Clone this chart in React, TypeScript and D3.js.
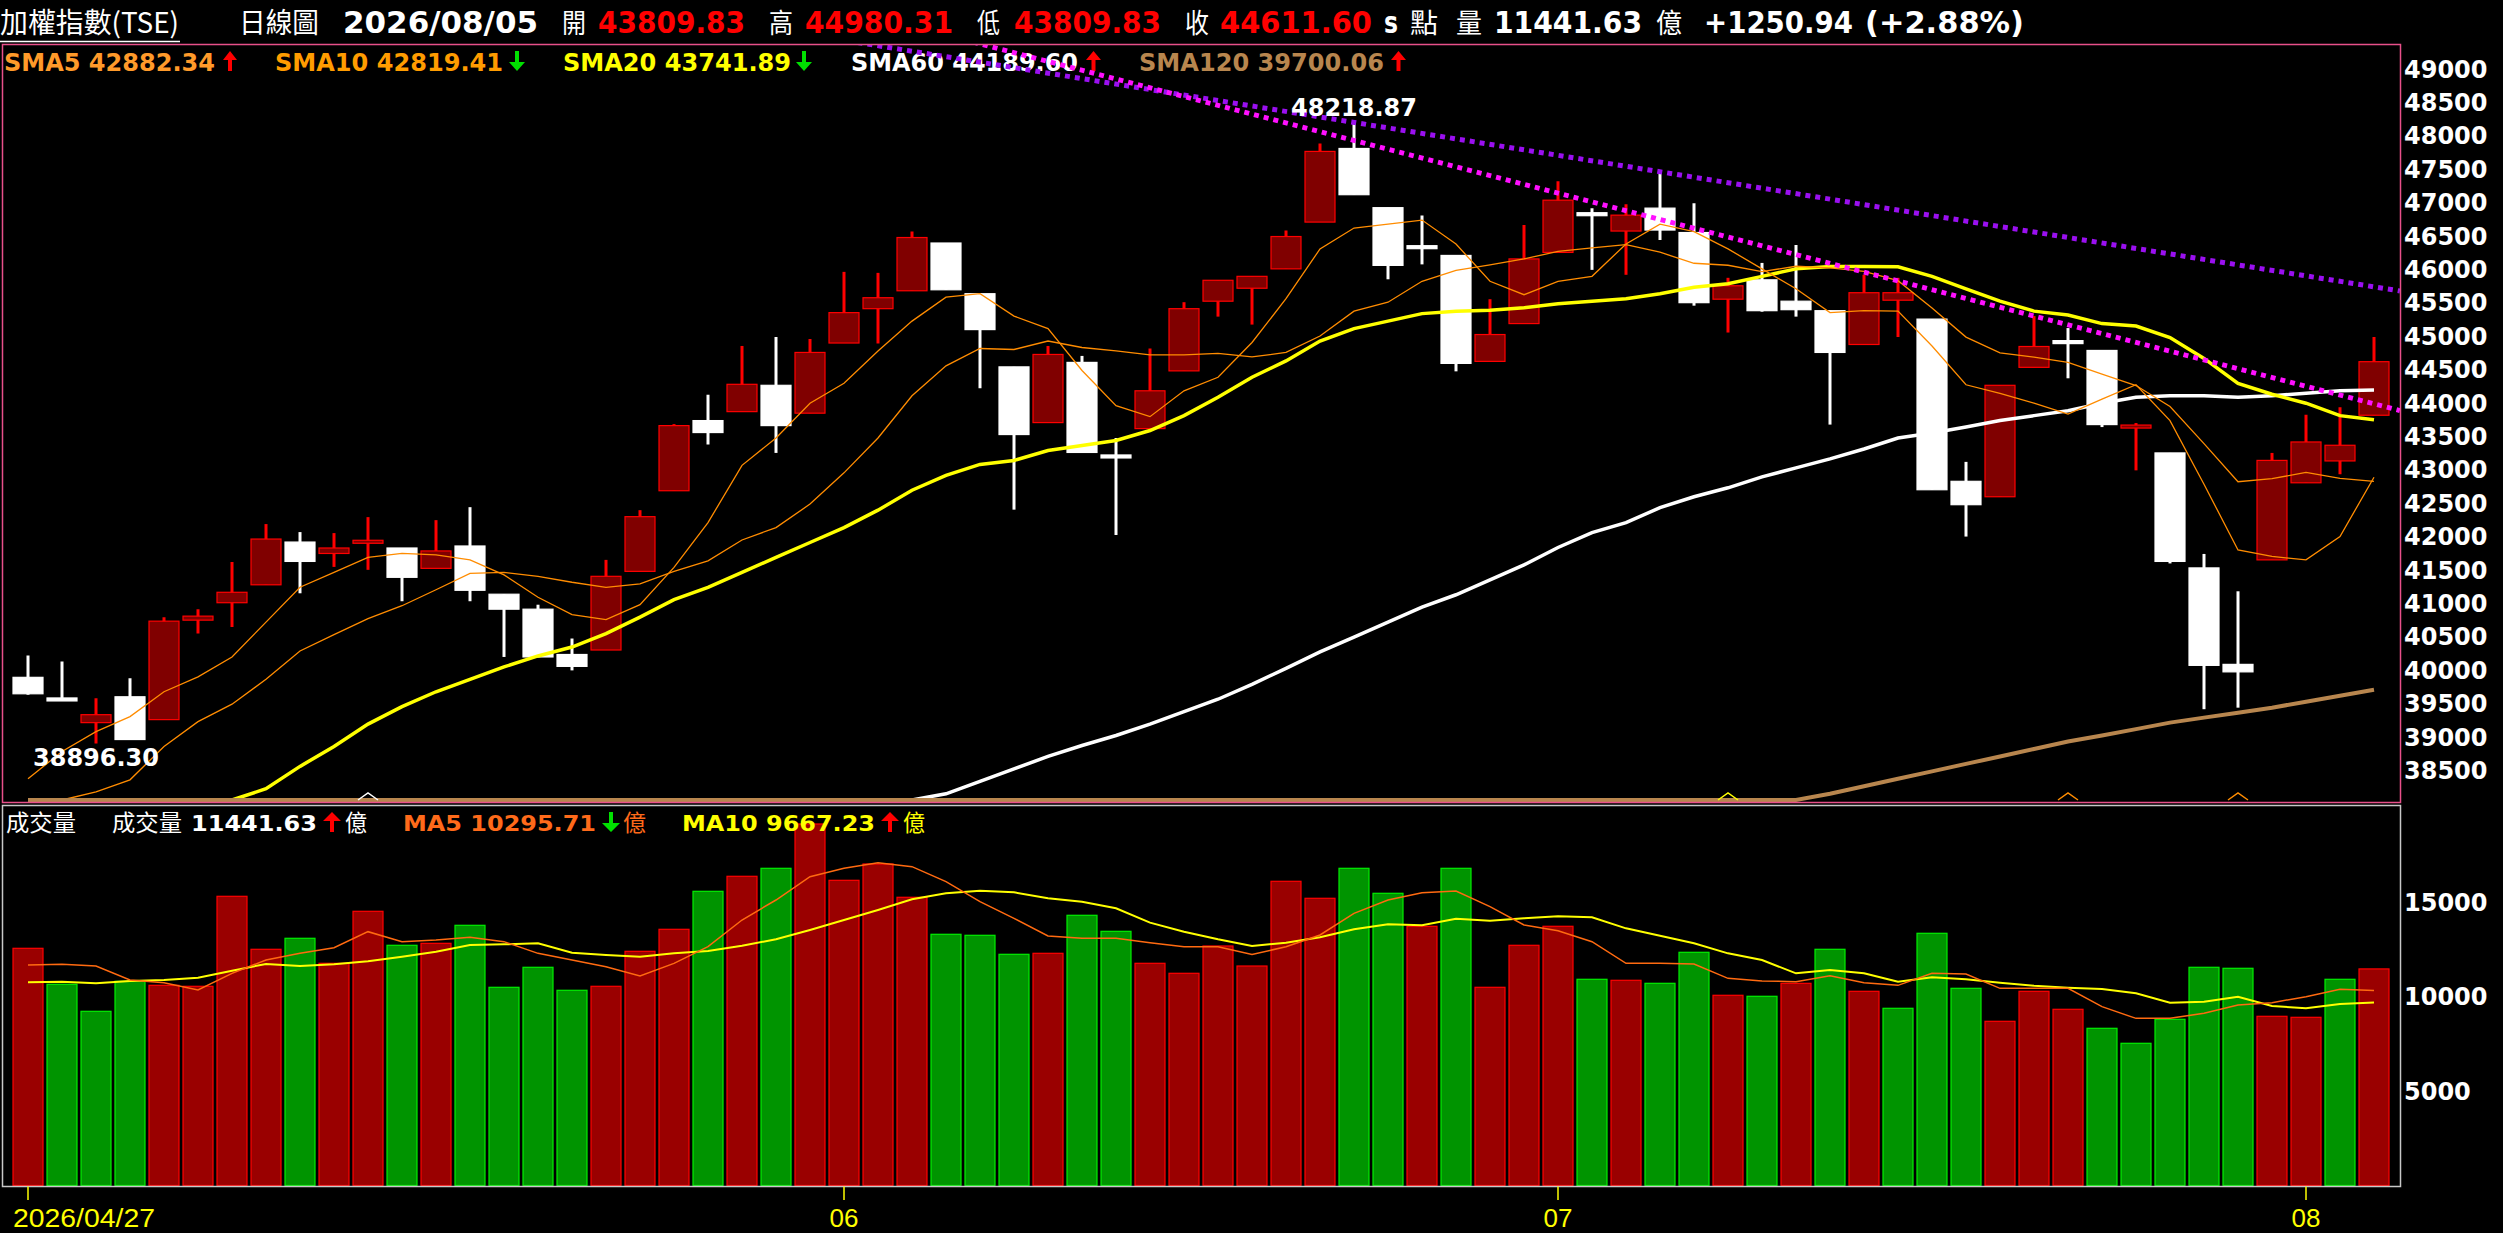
import React from "react";
import * as d3 from "d3";

// ---------------- DATA ----------------
const xTickIndex = [0, 24, 45, 67];
const xTickLabels = ["2026/04/27", "06", "07", "08"];
const barDate = "2026/08/05";

const opens = [39887, 39560, 39209, 39596, 39254, 40743, 41004, 41272, 41912, 41741,
  41905, 41823, 41518, 41853, 41131, 40907, 40229, 40296, 41473, 42680,
  43730, 43864, 44258, 43841, 44891, 45405, 45673, 46388, 45629, 44534,
  43700, 44601, 43200, 43610, 44474, 45517, 45711, 46001, 46701, 47803,
  46917, 46330, 46202, 44616, 45182, 46247, 46825, 46567, 46910, 46545,
  45547, 45837, 45517, 45375, 44869, 45532, 45249, 42821, 42590, 44527,
  44910, 44780, 43618, 43246, 41525, 40081, 41645, 42799, 43126, 43809.83];
const highs = [40215, 40125, 39574, 39872, 40788, 40907, 41615, 42181, 42061, 42046,
  42285, 41823, 42240, 42434, 41131, 40974, 40468, 41645, 42389, 43677,
  44117, 44847, 44981, 44951, 45956, 45941, 46560, 46388, 45629, 44534,
  44847, 44698, 43469, 44809, 45502, 45830, 45889, 46574, 47878, 48218.87,
  46917, 46798, 46202, 45547, 46656, 47312, 46910, 46969, 47431, 46984,
  45867, 46090, 46359, 45375, 45912, 45867, 45249, 43112, 44258, 45294,
  45115, 44780, 43693, 43246, 41734, 41175, 43246, 43819, 43931, 44980.31];
const lows = [39626, 39545, 38896.3, 38950, 39254, 40542, 40639, 41272, 41145, 41540,
  41496, 41026, 41518, 41026, 40192, 40192, 39991, 40296, 41473, 42680,
  43372, 43864, 43246, 43841, 44891, 44884, 45673, 45688, 44214, 42397,
  43700, 43253, 42017, 43610, 44474, 45286, 45167, 46001, 46701, 47111,
  45845, 46068, 44467, 44616, 45182, 46247, 45986, 45912, 46433, 45450,
  45048, 45360, 45286, 43670, 44869, 44981, 42695, 41994, 42590, 44527,
  44363, 43633, 42985, 41592, 39410, 39433, 41645, 42799, 42925, 43809.83];
const closes = [39641, 39552, 39328, 38956, 40728, 40803, 41160, 41957, 41622, 41823,
  41927, 41384, 41779, 41190, 40907, 40192, 40051, 41399, 42292, 43655,
  43551, 44273, 43655, 44750, 45346, 45569, 46470, 45688, 45092, 43521,
  44720, 43253, 43186, 44176, 45405, 45830, 45889, 46485, 47759, 47111,
  46053, 46321, 44586, 45018, 46150, 47029, 46813, 46805, 46582, 45495,
  45748, 45375, 45390, 44750, 45644, 45644, 42695, 42471, 44258, 44839,
  44899, 43670, 43663, 41622, 40066, 39969, 43134, 43410, 43360.66, 44611.6];

// null = below the visible price range
const sma5 = [38368, 38777, 39075, 39299, 39671, 39894, 40192, 40713, 41235, 41458,
  41682, 41741, 41719, 41644, 41421, 41086, 40825, 40751, 40974, 41533,
  42203, 43060, 43469, 43990, 44288, 44772, 45219, 45577, 45629, 45294,
  45107, 44480, 43953, 43789, 44176, 44378, 44899, 45554, 46299, 46612,
  46671, 46731, 46373, 45815, 45614, 45815, 45889, 46373, 46671, 46559,
  46300, 46001, 45703, 45346, 45376, 45368, 44847, 44266, 44139, 43990,
  43826, 44050, 44266, 43730, 42777, 41794, 41697, 41645, 41995, 42882.34];
const sma10 = [null, null, 38174, 38353, 38852, 39224, 39485, 39857, 40282, 40527,
  40766, 40959, 41198, 41443, 41458, 41399, 41310, 41235, 41287, 41473,
  41630, 41943, 42129, 42480, 42948, 43469, 44102, 44549, 44809, 44794,
  44921, 44824, 44772, 44713, 44713, 44735, 44683, 44750, 44996, 45368,
  45502, 45815, 45979, 46061, 46150, 46262, 46314, 46365, 46250, 46085,
  46055, 45960, 46040, 46015, 45965, 45825, 45415, 44980, 44745, 44680,
  44600, 44425, 44255, 43940, 43385, 42815, 42860, 42955, 42865, 42819.41];
const sma20 = [null, null, null, null, null, null, 38040, 38219, 38554, 38852,
  39187, 39448, 39671, 39857, 40043, 40207, 40341, 40542, 40788, 41049,
  41235, 41458, 41682, 41905, 42129, 42389, 42687, 42910, 43074, 43134,
  43283, 43357, 43432, 43581, 43804, 44080, 44378, 44623, 44921, 45107,
  45219, 45331, 45368, 45383, 45420, 45480, 45517, 45554, 45629, 45725,
  45777, 45889, 46001, 46038, 46038, 46031, 45889, 45703, 45517, 45368,
  45309, 45182, 45145, 44973, 44661, 44288, 44124, 43990, 43804, 43741.89];
const sma60 = [null, null, null, null, null, null, null, null, null, null,
  null, null, null, null, null, null, null, null, null, null,
  null, null, null, null, null, null, 38030, 38144, 38331, 38517,
  38703, 38867, 39016, 39187, 39373, 39559, 39783, 40021, 40267, 40490,
  40713, 40937, 41123, 41347, 41570, 41831, 42054, 42203, 42426, 42590,
  42724, 42888, 43022, 43156, 43305, 43469, 43543, 43633, 43730, 43804,
  43878, 43990, 44080, 44102, 44102, 44080, 44102, 44139, 44176, 44189.6];
const sma120 = [null, null, null, null, null, null, null, null, null, null,
  null, null, null, null, null, null, null, null, null, null,
  null, null, null, null, null, null, null, null, null, null,
  null, null, null, null, null, null, null, null, null, null,
  null, null, null, null, null, null, null, null, null, null,
  null, null, 38048, 38145, 38256, 38368, 38479, 38591, 38703, 38815,
  38926, 39016, 39112, 39209, 39284, 39358, 39433, 39522, 39611, 39700.06];

const volumes = [12530, 10629, 9202, 10787, 10576, 10523, 15277, 12478, 13059, 11738,
  14485, 12689, 12794, 13745, 10470, 11527, 10312, 10523, 12372, 13534,
  15541, 16334, 16756, 19097, 16122, 16984, 15225, 13270, 13217, 12213,
  12266, 14274, 13428, 11738, 11210, 12652, 11595, 16070, 15172, 16756,
  15436, 13693, 16756, 10470, 12689, 13693, 10893, 10840, 10681, 12319,
  10048, 9995, 10681, 12478, 10259, 9361, 13323, 10417, 8674, 10259,
  9308, 8304, 7512, 8780, 11527, 11474, 8938, 8885, 10893, 11441.63];
const volumeDirection = "RGGGRRRRGRRGRGGGGRRRGRGRRRRGGGRGGRRRRRRGGRGRRRGRGGRGRGRGGGRRRGGGGGRRGR";
const volMa5 = [11648, 11683, 11595, 10856, 10715, 10327, 11208, 11912, 12264, 12564,
  13409, 12881, 12969, 13110, 12881, 12264, 11912, 11560, 11067, 11736,
  12617, 14025, 15082, 16315, 16755, 17054, 16843, 16050, 14994, 14113,
  13180, 13057, 13057, 12828, 12617, 12617, 12200, 12617, 13233, 14378,
  15082, 15469, 15557, 14730, 13761, 13462, 12881, 11736, 11736, 11701,
  10944, 10803, 10768, 11084, 10715, 10574, 11208, 11173, 10415, 10415,
  10415, 9447, 8830, 8830, 9095, 9535, 9658, 9975, 10362, 10295.71];
const volMa10 = [10732, 10768, 10679, 10803, 10856, 10979, 11349, 11701, 11595, 11683,
  11842, 12088, 12353, 12705, 12740, 12793, 12300, 12176, 12088, 12264,
  12388, 12670, 13004, 13497, 14025, 14554, 15117, 15434, 15575, 15487,
  15170, 14994, 14642, 13885, 13409, 13004, 12650, 12828, 13110, 13532,
  13797, 13744, 14096, 13990, 14113, 14219, 14166, 13585, 13198, 12793,
  12264, 11912, 11208, 11384, 11208, 10768, 10996, 10891, 10715, 10556,
  10451, 10380, 10151, 9658, 9711, 9975, 9482, 9359, 9588, 9667.23];

const priceTicks = [49000, 48500, 48000, 47500, 47000, 46500, 46000, 45500, 45000, 44500, 44000,
  43500, 43000, 42500, 42000, 41500, 41000, 40500, 40000, 39500, 39000, 38500];
const volumeTicks = [15000, 10000, 5000];

// dotted trend lines: [bar index, price]
const violetTrend: [number, number][] = [[24.4, 49390], [69.76, 45670]];
const magentaTrend: [number, number][] = [[27.8, 49395], [69.76, 43880]];

// small markers on the lower edge (bar index)
const sma60BottomMarks = [10];
const sma20BottomMarks = [50];
const sma5BottomMarks = [60, 65];

// ---------------- CHART ----------------
const W = 2503, H = 1233;
const LAT = "'DejaVu Sans', Verdana, sans-serif";
const CJK = "'Noto Sans CJK TC', 'Noto Sans CJK SC', sans-serif";

function Arrow({ x0, x1, top, bottom, up, color }: any) {
  const cx = (x0 + x1) / 2, hw = (x1 - x0) / 2, hh = 9, sw = 2;
  const d = up
    ? `M${cx},${top} L${cx + hw},${top + hh} L${cx + sw},${top + hh} L${cx + sw},${bottom} L${cx - sw},${bottom} L${cx - sw},${top + hh} L${cx - hw},${top + hh} Z`
    : `M${cx},${bottom} L${cx + hw},${bottom - hh} L${cx + sw},${bottom - hh} L${cx + sw},${top} L${cx - sw},${top} L${cx - sw},${bottom - hh} L${cx - hw},${bottom - hh} Z`;
  return <path d={d} fill={color} />;
}

function T({ x0, x1, y, text, color, size, bold, cjk }: any) {
  return (
    <text x={x0} y={y} fill={color} fontSize={size} fontWeight={bold ? "bold" : "normal"}
      fontFamily={cjk ? CJK : LAT} textLength={x1 - x0} lengthAdjust="spacingAndGlyphs">{text}</text>
  );
}

export default function App() {
  const n = closes.length;
  const x = d3.scaleLinear().domain([0, n - 1]).range([28, 2374]);
  const y = d3.scaleLinear().domain([38500, 49000]).range([770, 68.5]);
  const yv = d3.scaleLinear().domain([0, 15000]).range([1185.5, 901.55]);
  const PL = 2.5, PR = 2400.5, PT = 44.5, PB = 802.5, VT = 805.5, VB = 1186.5;
  const clampY = 800;

  const maLine = d3.line<number | null>()
    .x((_, i) => x(i))
    .y((d) => (d == null ? clampY : Math.min(y(d), clampY)));
  const volLine = d3.line<number>().x((_, i) => x(i)).y((d) => yv(d));
  const trendPath = (pts: [number, number][]) =>
    d3.line<[number, number]>().x((d) => x(d[0])).y((d) => y(d[1]))(pts) || "";

  const last = n - 1;
  const change = closes[last] - closes[last - 1];
  const pct = (change / closes[last - 1]) * 100;
  const f2 = (v: number) => v.toFixed(2);
  const upArrow = (arr: any[]) => (arr[last] as number) >= (arr[last - 1] as number);

  const red = "#ff0000", hdrY = 33, legY = 71, vLegY = 831;
  const green = "#00e000";

  const chevron = (i: number, color: string, key: string) => {
    const cx = x(i);
    return <polyline key={key} points={`${cx - 10},${clampY} ${cx},${clampY - 7} ${cx + 10},${clampY}`}
      fill="none" stroke={color} strokeWidth={1.5} />;
  };

  return (
    <div style={{ position: "absolute", left: 0, top: 0, width: W, height: H, background: "#000" }}>
      <svg width={W} height={H} style={{ display: "block" }}>
        <defs>
          <clipPath id="pclip"><rect x={PL} y={PT} width={PR - PL} height={PB - PT} /></clipPath>
          <clipPath id="vclip"><rect x={PL} y={VT} width={PR - PL} height={VB - VT} /></clipPath>
        </defs>
        <rect x={0} y={0} width={W} height={H} fill="#000" />

        {/* header */}
        <T x0={0} x1={179} y={hdrY} text="加權指數(TSE)" color="#fff" size={28} cjk />
        <line x1={0} x2={180} y1={41.5} y2={41.5} stroke="#fff" strokeWidth={1.5} />
        <T x0={239} x1={319} y={hdrY} text="日線圖" color="#fff" size={28} cjk />
        <T x0={343} x1={538} y={hdrY} text={barDate} color="#fff" size={30} bold />
        <T x0={562} x1={586} y={hdrY} text="開" color="#fff" size={27} cjk />
        <T x0={598} x1={745} y={hdrY} text={f2(opens[last])} color={red} size={30} bold />
        <T x0={769} x1={793} y={hdrY} text="高" color="#fff" size={27} cjk />
        <T x0={805} x1={953} y={hdrY} text={f2(highs[last])} color={red} size={30} bold />
        <T x0={977} x1={1000} y={hdrY} text="低" color="#fff" size={27} cjk />
        <T x0={1014} x1={1161} y={hdrY} text={f2(lows[last])} color={red} size={30} bold />
        <T x0={1185} x1={1209} y={hdrY} text="收" color="#fff" size={27} cjk />
        <T x0={1220} x1={1372} y={hdrY} text={f2(closes[last])} color={red} size={30} bold />
        <T x0={1384} x1={1398} y={hdrY} text="s" color="#fff" size={30} bold />
        <T x0={1410} x1={1438} y={hdrY} text="點" color="#fff" size={27} cjk />
        <T x0={1456} x1={1482} y={hdrY} text="量" color="#fff" size={27} cjk />
        <T x0={1494} x1={1642} y={hdrY} text={f2(volumes[last])} color="#fff" size={30} bold />
        <T x0={1656} x1={1682} y={hdrY} text="億" color="#fff" size={27} cjk />
        <T x0={1704} x1={1853} y={hdrY} text={(change >= 0 ? "+" : "") + f2(change)} color="#fff" size={30} bold />
        <T x0={1865} x1={2024} y={hdrY} text={`(${change >= 0 ? "+" : ""}${f2(Math.floor(pct * 100) / 100)}%)`} color="#fff" size={30} bold />

        {/* price legend */}
        <T x0={4} x1={215} y={legY} text={`SMA5 ${f2(sma5[last])}`} color="#ff9a2a" size={24} bold />
        <Arrow x0={223} x1={237} top={51} bottom={71} up={upArrow(sma5)} color={upArrow(sma5) ? red : green} />
        <T x0={275} x1={503} y={legY} text={`SMA10 ${f2(sma10[last] as number)}`} color="#ff9c00" size={24} bold />
        <Arrow x0={509} x1={525} top={51} bottom={71} up={upArrow(sma10)} color={upArrow(sma10) ? red : green} />
        <T x0={563} x1={791} y={legY} text={`SMA20 ${f2(sma20[last] as number)}`} color="#ffff00" size={24} bold />
        <Arrow x0={796} x1={812} top={51} bottom={71} up={upArrow(sma20)} color={upArrow(sma20) ? red : green} />
        <T x0={851} x1={1078} y={legY} text={`SMA60 ${f2(sma60[last] as number)}`} color="#ffffff" size={24} bold />
        <Arrow x0={1086} x1={1101} top={51} bottom={71} up={upArrow(sma60)} color={upArrow(sma60) ? red : green} />
        <T x0={1139} x1={1384} y={legY} text={`SMA120 ${f2(sma120[last] as number)}`} color="#b8864e" size={24} bold />
        <Arrow x0={1391} x1={1406} top={51} bottom={71} up={upArrow(sma120)} color={upArrow(sma120) ? red : green} />

        {/* candles */}
        <g clipPath="url(#pclip)">
          {closes.map((c, i) => {
            const o = opens[i];
            const up = c > o;
            const cx = x(i);
            const yt = y(Math.max(o, c)), yb = y(Math.min(o, c));
            const h = Math.max(yb - yt, 3);
            const ym = (yt + yb) / 2;
            const col = up ? "#ff0000" : "#ffffff";
            return (
              <g key={i}>
                <line x1={cx} x2={cx} y1={y(highs[i])} y2={y(lows[i])} stroke={col} strokeWidth={3} />
                <rect x={cx - 15} y={ym - h / 2} width={30} height={h}
                  fill={up ? "#800000" : "#ffffff"} stroke={up ? "#ff0000" : "#ffffff"} strokeWidth={1.2} />
              </g>
            );
          })}
          {/* moving averages */}
          <path d={maLine(sma60) || ""} fill="none" stroke="#ffffff" strokeWidth={3.5} />
          <path d={maLine(sma20) || ""} fill="none" stroke="#ffff00" strokeWidth={3.5} />
          <path d={maLine(sma10) || ""} fill="none" stroke="#ff8c00" strokeWidth={1.3} />
          <path d={maLine(sma5) || ""} fill="none" stroke="#ff8c00" strokeWidth={1.3} />
          <path d={maLine(sma120) || ""} fill="none" stroke="#b8864e" strokeWidth={4} />
          {sma60BottomMarks.map((i) => chevron(i, "#ffffff", "w" + i))}
          {sma20BottomMarks.map((i) => chevron(i, "#ffff00", "y" + i))}
          {sma5BottomMarks.map((i) => chevron(i, "#ff8c00", "o" + i))}
          {/* trend lines */}
          <path d={trendPath(violetTrend)} fill="none" stroke="#9a10f0" strokeWidth={5} strokeDasharray="5 5" />
          <path d={trendPath(magentaTrend)} fill="none" stroke="#ff10ff" strokeWidth={5} strokeDasharray="5 5" />
        </g>

        {/* high / low annotations */}
        <text x={x(39)} y={116} fill="#fff" fontSize={24} fontWeight="bold" fontFamily={LAT} textAnchor="middle">{f2(highs[39])}</text>
        <text x={x(2)} y={766} fill="#fff" fontSize={24} fontWeight="bold" fontFamily={LAT} textAnchor="middle">{f2(lows[2])}</text>

        {/* price frame */}
        <rect x={PL} y={PT} width={PR - PL} height={PB - PT} fill="none" stroke="#e8508a" strokeWidth={1.5} />
        {priceTicks.map((v) => (
          <text key={v} x={2404} y={y(v) + 9} fill="#fff" fontSize={24} fontWeight="bold" fontFamily={LAT}>{v}</text>
        ))}

        {/* volume panel */}
        <g clipPath="url(#vclip)">
          {volumes.map((v, i) => {
            const isUp = volumeDirection[i] === "R";
            const cx = x(i);
            return (
              <rect key={i} x={cx - 15} y={yv(v)} width={30} height={yv(0) - yv(v)}
                fill={isUp ? "#9a0000" : "#009400"} stroke={isUp ? "#ff0000" : "#00ee00"} strokeWidth={1.2} />
            );
          })}
          <path d={volLine(volMa10) || ""} fill="none" stroke="#ffff00" strokeWidth={2} />
          <path d={volLine(volMa5) || ""} fill="none" stroke="#ff6a10" strokeWidth={1.5} />
        </g>
        <rect x={PL} y={VT} width={PR - PL} height={VB - VT} fill="none" stroke="#c8c8c8" strokeWidth={1.5} />
        {volumeTicks.map((v) => (
          <text key={v} x={2404} y={yv(v) + 9} fill="#fff" fontSize={24} fontWeight="bold" fontFamily={LAT}>{v}</text>
        ))}

        {/* volume legend */}
        <T x0={6} x1={76} y={vLegY} text="成交量" color="#fff" size={23} cjk />
        <T x0={112} x1={182} y={vLegY} text="成交量" color="#fff" size={23} cjk />
        <T x0={191} x1={317} y={vLegY} text={f2(volumes[last])} color="#fff" size={22} bold />
        <Arrow x0={323} x1={341} top={812} bottom={832} up={volumes[last] >= volumes[last - 1]} color={volumes[last] >= volumes[last - 1] ? red : green} />
        <T x0={345} x1={367} y={vLegY} text="億" color="#fff" size={23} cjk />
        <T x0={403} x1={596} y={vLegY} text={`MA5 ${f2(volMa5[last])}`} color="#ff6a1a" size={22} bold />
        <Arrow x0={602} x1={620} top={812} bottom={832} up={upArrow(volMa5)} color={upArrow(volMa5) ? red : green} />
        <T x0={623} x1={646} y={vLegY} text="億" color="#ff6a1a" size={23} cjk />
        <T x0={682} x1={875} y={vLegY} text={`MA10 ${f2(volMa10[last])}`} color="#ffff00" size={22} bold />
        <Arrow x0={881} x1={899} top={812} bottom={832} up={upArrow(volMa10)} color={upArrow(volMa10) ? red : green} />
        <T x0={903} x1={925} y={vLegY} text="億" color="#ffff00" size={23} cjk />

        {/* x axis */}
        {xTickIndex.map((ti, k) => (
          <g key={ti}>
            <line x1={x(ti)} x2={x(ti)} y1={VB} y2={1200} stroke="#ffff00" strokeWidth={1.5} />
            {k === 0 ? (
              <text x={13} y={1227} fill="#ffff00" fontSize={26} fontFamily="'Liberation Sans', Arial, sans-serif"
                textLength={142} lengthAdjust="spacingAndGlyphs">{xTickLabels[k]}</text>
            ) : (
              <text x={x(ti)} y={1227} fill="#ffff00" fontSize={26} fontFamily="'Liberation Sans', Arial, sans-serif"
                textAnchor="middle">{xTickLabels[k]}</text>
            )}
          </g>
        ))}
      </svg>
    </div>
  );
}
